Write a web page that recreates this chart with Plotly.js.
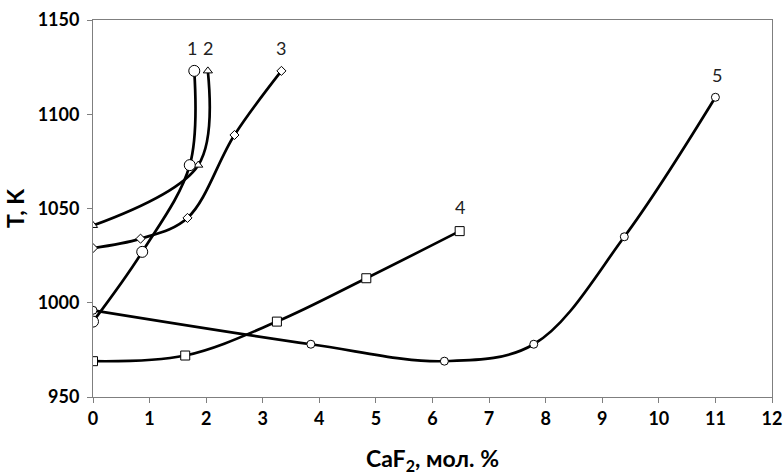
<!DOCTYPE html>
<html>
<head>
<meta charset="utf-8">
<script src="https://cdn.plot.ly/plotly-3.0.1.min.js"></script>
<style>html,body{margin:0;padding:0;background:#fff;}#chart{width:783px;height:475px;}</style>
</head>
<body>
<div id="chart"></div>
<script>
// Series data (CaF2 mol.% vs T, K)
const x1 = [0, 0.87, 1.71, 1.79];
const y1 = [990, 1027, 1073, 1123];
const x2 = [0, 1.86, 2.03];
const y2 = [1041, 1073, 1123];
const x3 = [0, 0.84, 1.67, 2.50, 3.33];
const y3 = [1029, 1034, 1045, 1089, 1123];
const x4 = [0, 1.63, 3.25, 4.83, 6.48];
const y4 = [969, 972, 990, 1013, 1038];
const x5 = [0, 3.85, 6.21, 7.79, 9.39, 11.0];
const y5 = [996, 978, 969, 978, 1035, 1109];
const curveLabels = ['1', '2', '3', '4', '5'];
const labelX = [1.75, 2.04, 3.33, 6.49, 11.02];
const labelY = [1135, 1135, 1135, 1051, 1121];
const xTicks = [0,1,2,3,4,5,6,7,8,9,10,11,12];
const yTicks = [950, 1000, 1050, 1100, 1150];

function series(x, y, symbol, size) {
  return {
    x: x, y: y, type: 'scatter', mode: 'lines+markers',
    line: {color: '#000', width: 2.7, shape: 'spline', smoothing: 1},
    marker: {symbol: symbol, size: size, color: '#fff', line: {color: '#000', width: 1}},
    showlegend: false, hoverinfo: 'skip'
  };
}

const data = [
  series(x4, y4, 'square', 9),
  series(x5, y5, 'circle', 8),
  series(x3, y3, 'diamond', 7),
  series(x2, y2, 'triangle-up', 8),
  series(x1, y1, 'circle', 11)
];

const FONT = 'Lato, sans-serif';
const annotations = curveLabels.map((t, i) => ({
  x: labelX[i], y: labelY[i], text: t, showarrow: false,
  xref: 'x', yref: 'y',
  font: {family: FONT, size: 18, color: '#222'}
}));

const layout = {
  width: 783, height: 475,
  margin: {l: 93, r: 11, t: 20, b: 78},
  paper_bgcolor: '#fff', plot_bgcolor: '#fff',
  font: {family: FONT, color: '#000'},
  xaxis: {
    range: [0, 12], tickvals: xTicks, ticktext: xTicks.map(v => '<b>' + v + '</b>'),
    showgrid: false, zeroline: false,
    showline: true, linecolor: '#7f7f7f', linewidth: 1, mirror: true,
    ticks: 'outside', ticklen: 5, tickcolor: '#7f7f7f',
    tickfont: {family: FONT, size: 18, color: '#000'},
    title: {text: '<b>CaF<sub>2</sub>, мол. %</b>', standoff: 26,
      font: {family: FONT, size: 23, color: '#000'}}
  },
  yaxis: {
    range: [950, 1150], tickvals: yTicks, ticktext: yTicks.map(v => '<b>' + v + '</b>'),
    showgrid: false, zeroline: false,
    showline: true, linecolor: '#7f7f7f', linewidth: 1, mirror: true,
    ticks: 'outside', ticklen: 5, tickcolor: '#7f7f7f', ticklabelstandoff: 4,
    tickfont: {family: FONT, size: 18, color: '#000'},
    title: {text: '<b>T, K</b>', standoff: 6,
      font: {family: FONT, size: 23, color: '#000'}}
  },
  annotations: annotations
};

Plotly.newPlot('chart', data, layout, {staticPlot: true, displayModeBar: false});
</script>
</body>
</html>
